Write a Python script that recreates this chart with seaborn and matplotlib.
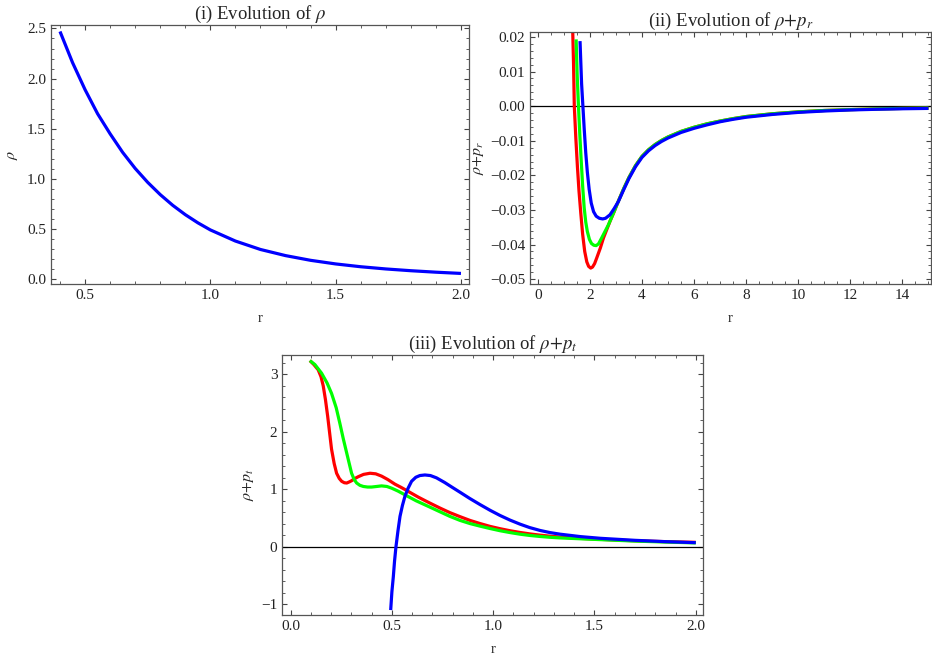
import numpy as np
import pandas as pd
import seaborn as sns
import matplotlib.pyplot as plt
from matplotlib.ticker import MultipleLocator, FuncFormatter

# (i) rho
r1 = [0.4, 0.45, 0.5, 0.55, 0.6, 0.65, 0.7, 0.75, 0.8, 0.85, 0.9, 0.95, 1.0,
      1.1, 1.2, 1.3, 1.4, 1.5, 1.6, 1.7, 1.8, 1.9, 2.0]
rho = [2.47, 2.16, 1.89, 1.65, 1.45, 1.265, 1.105, 0.966, 0.844, 0.737, 0.644, 0.563, 0.492,
       0.381, 0.297, 0.236, 0.189, 0.153, 0.125, 0.103, 0.0854, 0.0707, 0.0584]

# (ii) rho + p_r
tail_x = [3.3, 3.5, 3.75, 4.0, 4.25, 4.5, 4.75, 5.0, 5.5, 6.0, 6.5, 7.0, 7.5, 8.0, 9.0, 10.0,
          11.0, 12.0, 13.0, 14.0, 15.0]
tail_y = [-0.0238, -0.0206, -0.0172, -0.0145, -0.0126, -0.0111, -0.0099, -0.0089, -0.0073,
          -0.0061, -0.0051, -0.0043, -0.0036, -0.0030, -0.0022, -0.00165, -0.00125, -0.0010,
          -0.0008, -0.00065, -0.00055]
blue_tail_y = [-0.0241, -0.0209, -0.0175, -0.0148, -0.0129, -0.0114, -0.0102, -0.0092, -0.0076,
               -0.0064, -0.0054, -0.0045, -0.0038, -0.0032, -0.0024, -0.0018, -0.0014, -0.0011,
               -0.0009, -0.00075, -0.00065]
r2_red = [1.33, 1.37, 1.40, 1.46, 1.52, 1.58, 1.65, 1.72, 1.80, 1.88, 1.95, 2.03, 2.10, 2.18,
          2.26, 2.40, 2.52, 2.65, 2.77, 2.93, 3.09] + tail_x
pr_red = [0.0245, 0.0125, 0.0, -0.0094, -0.0175, -0.0245, -0.0310, -0.0370, -0.0420, -0.0450,
          -0.0463, -0.0468, -0.0465, -0.0455, -0.0439, -0.0410, -0.0381, -0.0356, -0.0333,
          -0.0305, -0.0275] + tail_y
r2_green = [1.47, 1.51, 1.56, 1.61, 1.66, 1.72, 1.78, 1.84, 1.90, 1.98, 2.06, 2.15, 2.24, 2.33,
            2.45, 2.58, 2.71, 2.87, 3.03, 3.09] + tail_x
pr_green = [0.0193, 0.0090, 0.0, -0.0080, -0.0150, -0.0230, -0.0294, -0.0335, -0.0362, -0.0385,
            -0.0397, -0.0402, -0.0403, -0.0398, -0.0381, -0.0362, -0.0343, -0.0315, -0.0286,
            -0.0275] + tail_y
r2_blue = [1.62, 1.68, 1.73, 1.78, 1.84, 1.90, 1.97, 2.05, 2.14, 2.24, 2.36, 2.49, 2.60, 2.77,
           2.93, 3.09] + tail_x
pr_blue = [0.0188, 0.0065, 0.0, -0.0065, -0.0135, -0.0190, -0.0240, -0.0280, -0.0305, -0.0318,
           -0.0324, -0.0326, -0.0324, -0.0314, -0.0296, -0.0276] + blue_tail_y

# (iii) rho + p_t
r3_red = [0.095, 0.115, 0.136, 0.15, 0.161, 0.172, 0.183, 0.193, 0.202, 0.215, 0.227, 0.24, 0.252,
          0.265, 0.277, 0.29, 0.301, 0.318, 0.334, 0.36, 0.392, 0.42, 0.449, 0.48, 0.515, 0.545,
          0.573, 0.60, 0.63, 0.66, 0.688, 0.737, 0.786, 0.836, 0.885, 0.935, 0.985, 1.034,
          1.083, 1.132, 1.18, 1.231, 1.28, 1.33, 1.43, 1.53, 1.7, 1.85, 2.0]
pt_red = [3.24, 3.17, 3.08, 2.96, 2.80, 2.56, 2.27, 1.97, 1.70, 1.45, 1.28, 1.19, 1.14,
          1.115, 1.11, 1.13, 1.15, 1.19, 1.22, 1.26, 1.28, 1.27, 1.23, 1.17, 1.09, 1.035,
          0.98, 0.925, 0.865, 0.81, 0.76, 0.675, 0.595, 0.525, 0.46, 0.405, 0.355, 0.315,
          0.28, 0.25, 0.225, 0.203, 0.185, 0.17, 0.147, 0.13, 0.105, 0.09, 0.078]
r3_green = [0.095, 0.12, 0.153, 0.18, 0.202, 0.225, 0.243, 0.26, 0.277, 0.29, 0.301, 0.314, 0.326,
            0.342, 0.359, 0.38, 0.40, 0.425, 0.449, 0.475, 0.499, 0.53, 0.564, 0.62, 0.688,
            0.737, 0.786, 0.836, 0.885, 0.935, 0.985, 1.034, 1.083, 1.132, 1.18, 1.231, 1.28,
            1.33, 1.43, 1.53, 1.7, 1.85, 2.0]
pt_green = [3.24, 3.17, 3.02, 2.85, 2.67, 2.42, 2.15, 1.88, 1.63, 1.44, 1.28, 1.17, 1.11,
            1.07, 1.05, 1.04, 1.04, 1.05, 1.06, 1.05, 1.02, 0.97, 0.905, 0.80, 0.69,
            0.61, 0.53, 0.46, 0.405, 0.36, 0.318, 0.28, 0.248, 0.22, 0.198, 0.18, 0.166,
            0.155, 0.14, 0.125, 0.10, 0.083, 0.068]
r3_blue = [0.494, 0.50, 0.507, 0.513, 0.52, 0.53, 0.54, 0.552, 0.564, 0.58, 0.597, 0.618, 0.638,
           0.663, 0.69, 0.72, 0.76, 0.80, 0.836, 0.885, 0.935, 0.985, 1.034, 1.083, 1.132,
           1.18, 1.231, 1.28, 1.33, 1.43, 1.53, 1.7, 1.85, 2.0]
pt_blue = [-1.10, -0.78, -0.52, -0.25, 0.0, 0.28, 0.53, 0.72, 0.875, 1.02, 1.14, 1.21, 1.24,
           1.25, 1.24, 1.20, 1.12, 1.03, 0.95, 0.84, 0.735, 0.635, 0.545, 0.465, 0.395,
           0.335, 0.285, 0.248, 0.22, 0.178, 0.148, 0.113, 0.09, 0.072]

sns.set_style('ticks')
plt.rcParams['font.family'] = ['Liberation Serif', 'DejaVu Serif']
plt.rcParams['mathtext.fontset'] = 'stix'

fig = plt.figure(figsize=(9.32, 6.62), dpi=100, facecolor='white')
ax1 = fig.add_axes([0.0547, 0.571, 0.4485, 0.391])
ax2 = fig.add_axes([0.5687, 0.571, 0.4303, 0.381])
ax3 = fig.add_axes([0.3029, 0.071, 0.4517, 0.393])

lw = 2.3


def curve(ax, x, y, color):
    df = pd.DataFrame({'r': x, 'v': y})
    sns.lineplot(data=df, x='r', y='v', ax=ax, color=color, lw=lw, sort=False,
                 estimator=None, solid_capstyle='butt')


def fmt(decimals):
    def f(v, pos):
        if abs(v) < 1e-9:
            v = 0.0
        return f'{v:.{decimals}f}'.replace('-', '\u2212')
    return FuncFormatter(f)


def frame(ax, xmaj, xmin, ymaj, ymin, ydec, xdec):
    for s in ax.spines.values():
        s.set_color('#555555')
        s.set_linewidth(0.9)
    ax.xaxis.set_major_locator(MultipleLocator(xmaj))
    ax.xaxis.set_minor_locator(MultipleLocator(xmin))
    ax.yaxis.set_major_locator(MultipleLocator(ymaj))
    ax.yaxis.set_minor_locator(MultipleLocator(ymin))
    ax.yaxis.set_major_formatter(fmt(ydec))
    ax.xaxis.set_major_formatter(fmt(xdec))
    ax.tick_params(which='both', direction='in', top=True, right=True,
                   color='#444444', labelsize=11, labelcolor='#222222')
    ax.tick_params(which='major', length=3.5, width=0.8)
    ax.tick_params(which='minor', length=2, width=0.6)
    ax.set_xlabel('r', fontsize=10.5, labelpad=7)


# (i)
curve(ax1, r1, rho, 'blue')
ax1.set_xlim(0.364, 2.032)
ax1.set_ylim(-0.047, 2.533)
frame(ax1, 0.5, 0.1, 0.5, 0.1, 1, 1)
ax1.set_ylabel(r'$\rho$', fontsize=11.5, labelpad=5)
ax1.set_title(r'(i) Evolution of $\rho$', fontsize=13.5, pad=4)

# (ii)
ax2.axhline(0, color='black', lw=0.9, zorder=1)
curve(ax2, r2_red, pr_red, 'red')
curve(ax2, r2_green, pr_green, '#00ff00')
curve(ax2, r2_blue, pr_blue, 'blue')
ax2.set_xlim(-0.3, 15.1)
ax2.set_ylim(-0.0514, 0.0215)
frame(ax2, 2, 0.5, 0.01, 0.002, 2, 0)
ax2.set_ylabel(r'$\rho{+}p_r$', fontsize=11.5, labelpad=3)
ax2.set_title(r'(ii) Evolution of $\rho{+}p_r$', fontsize=13.5, pad=4)

# (iii)
ax3.axhline(0, color='black', lw=0.9, zorder=1)
curve(ax3, r3_red, pt_red, 'red')
curve(ax3, r3_green, pt_green, '#00ff00')
curve(ax3, r3_blue, pt_blue, 'blue')
ax3.set_xlim(-0.041, 2.037)
ax3.set_ylim(-1.186, 3.34)
frame(ax3, 0.5, 0.1, 1, 0.2, 0, 1)
ax3.set_ylabel(r'$\rho{+}p_t$', fontsize=11.5, labelpad=4)
ax3.set_title(r'(iii) Evolution of $\rho{+}p_t$', fontsize=13.5, pad=4)

fig.savefig('out.png', dpi=100, facecolor='white')
